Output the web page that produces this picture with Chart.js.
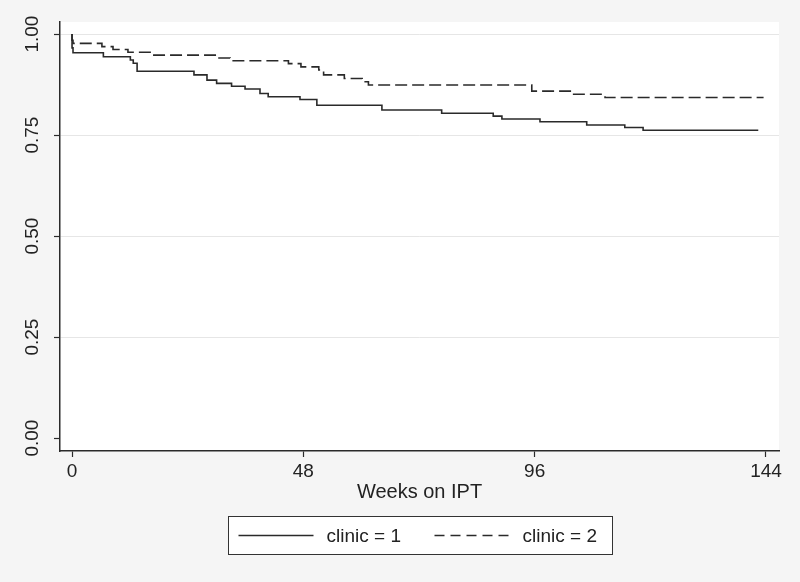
<!DOCTYPE html>
<html>
<head>
<meta charset="utf-8">
<script src="https://cdn.jsdelivr.net/npm/chart.js@4/dist/chart.umd.min.js"></script>
<style>
  html, body { margin: 0; padding: 0; background: #f5f5f5; }
  #wrap { width: 800px; height: 582px; }
</style>
</head>
<body>
<div id="wrap"><canvas id="c" width="800" height="582"></canvas></div>
<script>
// Kaplan-Meier step data (weeks on IPT, survival probability)
const clinic1Weeks = [0, 0.2, 6.5, 12.1, 12.7, 13.5, 25.3, 28.0, 30.0, 33.1, 35.9, 39.0, 40.7, 47.3, 50.8, 64.3, 76.7, 87.4, 89.2, 97.1, 106.8, 114.7, 118.5, 142.4];
const clinic1Surv  = [1.0, 0.966, 0.954, 0.944, 0.936, 0.928, 0.908, 0.899, 0.886, 0.878, 0.871, 0.864, 0.853, 0.845, 0.838, 0.824, 0.812, 0.804, 0.797, 0.790, 0.783, 0.775, 0.769, 0.762];

const clinic2Weeks = [0, 0.2, 6.2, 8.5, 11.6, 16.2, 30.0, 32.8, 44.9, 47.5, 51.2, 52.2, 56.5, 60.2, 61.5, 95.4, 103.7, 110.6, 143.5];
const clinic2Surv  = [1.0, 0.985, 0.977, 0.969, 0.962, 0.955, 0.948, 0.941, 0.934, 0.927, 0.919, 0.911, 0.899, 0.890, 0.882, 0.874, 0.859, 0.851, 0.843];

const seriesLabels = ["clinic = 1", "clinic = 2"];
const xTickValues = [0, 48, 96, 144];
const yTickValues = [0, 0.25, 0.5, 0.75, 1];
const xTitle = "Weeks on IPT";

const FONT = "'Liberation Sans', Arial, Helvetica, sans-serif";
const INK = '#2a2a2a';

function toPoints(xs, ys) { return xs.map((x, i) => ({ x: x, y: ys[i] })); }

const bgPlugin = {
  id: 'bg',
  beforeDraw(chart) {
    const { ctx, chartArea: a } = chart;
    ctx.save();
    ctx.fillStyle = '#f5f5f5';
    ctx.fillRect(0, 0, chart.width, chart.height);
    ctx.fillStyle = '#ffffff';
    ctx.fillRect(a.left, a.top, a.right - a.left, a.bottom - a.top);
    ctx.restore();
  }
};

const legendPlugin = {
  id: 'boxLegend',
  afterDraw(chart) {
    const { ctx, chartArea: a } = chart;
    const cx = (a.left + a.right) / 2;
    const left = Math.round(cx - 192) + 0.5;
    const top = a.bottom + 65.5;
    const w = 384, h = 38;
    ctx.save();
    ctx.fillStyle = '#ffffff';
    ctx.fillRect(left, top, w, h);
    ctx.strokeStyle = '#333333';
    ctx.lineWidth = 1;
    ctx.strokeRect(left, top, w, h);
    const midY = top + h / 2;
    const items = [
      { x0: left + 10, x1: left + 85, tx: left + 98 },
      { x0: left + 206, x1: left + 280, tx: left + 294 }
    ];
    chart.data.datasets.forEach((ds, i) => {
      const it = items[i];
      ctx.beginPath();
      ctx.setLineDash(i === 1 ? [10, 6] : []);
      ctx.strokeStyle = ds.borderColor;
      ctx.lineWidth = 1.5;
      ctx.moveTo(it.x0, midY);
      ctx.lineTo(it.x1, midY);
      ctx.stroke();
      ctx.setLineDash([]);
      ctx.fillStyle = '#222';
      ctx.font = '19px ' + FONT;
      ctx.textBaseline = 'middle';
      ctx.textAlign = 'left';
      ctx.fillText(ds.label, it.tx, midY + 1);
    });
    ctx.restore();
  }
};

new Chart(document.getElementById('c'), {
  type: 'line',
  data: {
    datasets: [
      {
        label: seriesLabels[0],
        data: toPoints(clinic1Weeks, clinic1Surv),
        borderColor: INK,
        borderWidth: 1.6,
        pointRadius: 0,
        stepped: 'after',
        fill: false
      },
      {
        label: seriesLabels[1],
        data: toPoints(clinic2Weeks, clinic2Surv),
        borderColor: INK,
        borderWidth: 1.6,
        borderDash: [12, 5],
        pointRadius: 0,
        stepped: 'after',
        fill: false
      }
    ]
  },
  options: {
    responsive: false,
    animation: false,
    devicePixelRatio: 1,
    layout: { padding: { left: 0, right: 21, top: 22, bottom: 78 } },
    plugins: {
      legend: { display: false },
      tooltip: { enabled: false }
    },
    scales: {
      x: {
        type: 'linear',
        min: -2.5,
        max: 146.7,
        afterBuildTicks(scale) { scale.ticks = xTickValues.map(v => ({ value: v })); },
        afterFit(scale) { scale.height = 53; },
        grid: { drawOnChartArea: false, drawTicks: true, tickLength: 6, tickColor: INK, tickWidth: 1.2 },
        border: { display: true, color: INK, width: 1.5 },
        ticks: { color: '#222', font: { family: FONT, size: 19 }, padding: 3, maxRotation: 0, autoSkip: false },
        title: { display: true, text: xTitle, color: '#222', font: { family: FONT, size: 20 }, padding: { top: 0, bottom: 0 } }
      },
      y: {
        type: 'linear',
        min: -0.032,
        max: 1.03,
        afterBuildTicks(scale) { scale.ticks = yTickValues.map(v => ({ value: v })); },
        afterFit(scale) { scale.width = 60; },
        grid: {
          drawOnChartArea: true,
          color: ctx => (ctx.tick && ctx.tick.value === 0) ? 'rgba(0,0,0,0)' : '#e6e6e6',
          lineWidth: 1,
          drawTicks: true,
          tickLength: 6,
          tickColor: INK,
          tickWidth: 1.2
        },
        border: { display: true, color: INK, width: 1.5 },
        ticks: {
          color: '#222',
          font: { family: FONT, size: 19 },
          minRotation: 90,
          maxRotation: 90,
          crossAlign: 'center',
          autoSkip: false,
          callback: v => Number(v).toFixed(2)
        }
      }
    }
  },
  plugins: [bgPlugin, legendPlugin]
});
</script>
</body>
</html>
